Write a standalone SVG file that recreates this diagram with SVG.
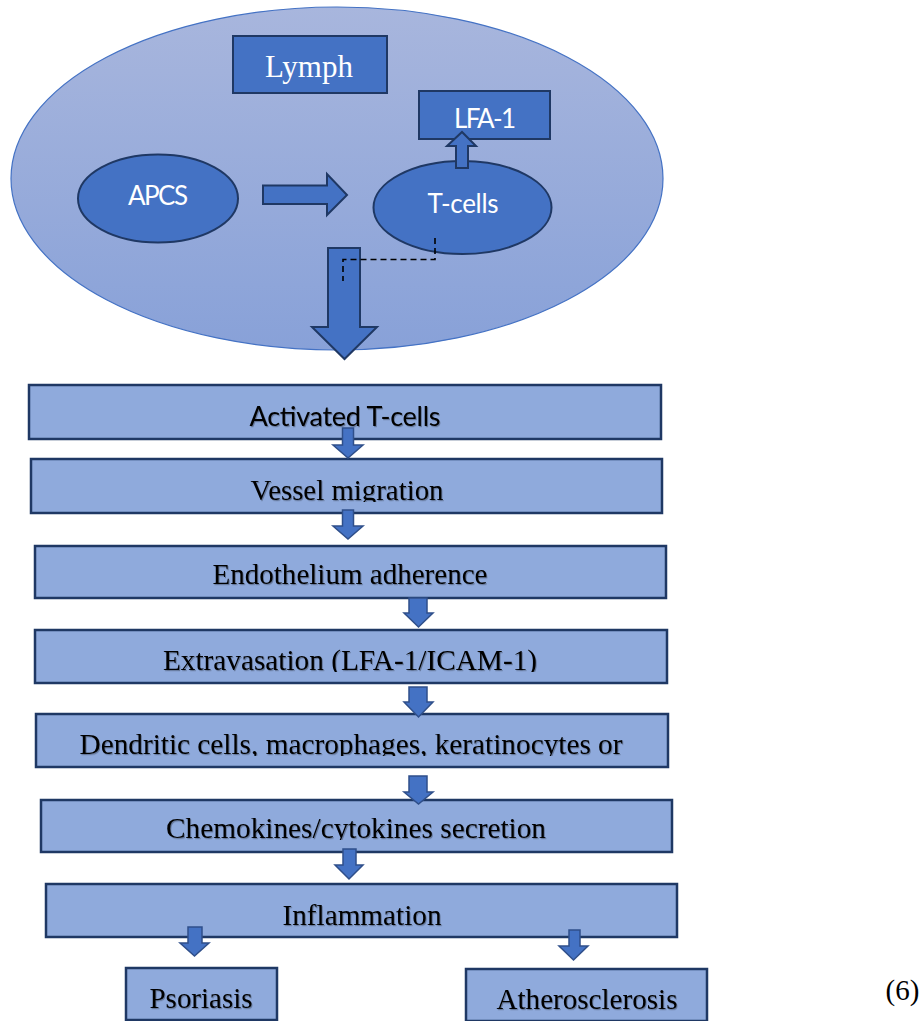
<svg xmlns="http://www.w3.org/2000/svg" width="924" height="1021" viewBox="0 0 924 1021">
  <defs>
    <linearGradient id="lymphGrad" x1="0" y1="0" x2="0" y2="1">
      <stop offset="0" stop-color="#a8b6dd"/>
      <stop offset="1" stop-color="#88a1d8"/>
    </linearGradient>
    <filter id="shadow" x="-5%" y="-20%" width="110%" height="150%">
      <feDropShadow dx="1" dy="1.2" stdDeviation="0.6" flood-color="#000" flood-opacity="0.3"/>
    </filter>
    <clipPath id="clip2"><rect x="31" y="459" width="631" height="43"/></clipPath>
    <clipPath id="clip4"><rect x="35" y="630" width="632" height="42"/></clipPath>
    <clipPath id="clip5"><rect x="36" y="714" width="632" height="42"/></clipPath>
    <clipPath id="clip6"><rect x="41" y="800" width="631" height="40"/></clipPath>
  </defs>
  <style>
    .dark { fill: #4472c4; stroke: #1f3864; stroke-width: 2; }
    .box { fill: #8faadc; stroke: #1f3864; stroke-width: 2.5; }
    .arrow { fill: #4472c4; stroke: #2f4f8a; stroke-width: 1.5; stroke-linejoin: miter; }
    .bigarrow { fill: #4472c4; stroke: #1f3864; stroke-width: 2; }
    .wsans { font-family: Lato, "Liberation Sans", sans-serif; fill: #ffffff; text-anchor: middle; }
    .wserif { font-family: "Liberation Serif", serif; fill: #ffffff; text-anchor: middle; }
    .bserif { font-family: "Liberation Serif", serif; fill: #000000; text-anchor: middle; font-size: 30px; }
    .bsans { font-family: Lato, "Liberation Sans", sans-serif; fill: #000000; text-anchor: middle; }
    .dash { fill: none; stroke: #000000; stroke-width: 1.6; stroke-dasharray: 6 4; }
  </style>

  <g id="lymph-region">
    <ellipse cx="337" cy="178.5" rx="326" ry="171.5" fill="url(#lymphGrad)" stroke="#4472c4" stroke-width="1.2"/>
  </g>

  <g id="lymph">
    <rect class="dark" x="233" y="36" width="154" height="57"/>
    <text class="wserif" x="309" y="77" font-size="31" textLength="88">Lymph</text>
  </g>

  <g id="lfa1">
    <rect class="dark" x="419" y="91" width="131" height="48"/>
    <text class="wsans" x="485" y="128" font-size="26" textLength="62">LFA-1</text>
  </g>

  <g id="apcs">
    <ellipse class="dark" cx="158" cy="198.5" rx="80" ry="44"/>
    <text class="wsans" x="158" y="205" font-size="26" textLength="60">APCS</text>
  </g>

  <g id="tcells">
    <ellipse class="dark" cx="462.5" cy="207.5" rx="89" ry="46.5"/>
    <text class="wsans" x="463" y="213" font-size="26" textLength="71">T-cells</text>
  </g>

  <g id="activated-tcells">
    <rect class="box" x="29" y="385" width="632" height="54"/>
    <text class="bsans" x="345" y="426" font-size="27" textLength="191" filter="url(#shadow)">Activated T-cells</text>
  </g>

  <g id="vessel-migration">
    <rect class="box" x="31" y="459" width="631" height="54"/>
    <g clip-path="url(#clip2)">
      <text class="bserif" x="347" y="500" textLength="193" lengthAdjust="spacingAndGlyphs" filter="url(#shadow)">Vessel migration</text>
    </g>
  </g>

  <g id="endothelium-adherence">
    <rect class="box" x="35" y="546" width="631" height="52"/>
    <text class="bserif" x="350" y="584" textLength="275" lengthAdjust="spacingAndGlyphs" filter="url(#shadow)">Endothelium adherence</text>
  </g>

  <g id="extravasation">
    <rect class="box" x="35" y="630" width="632" height="53"/>
    <g clip-path="url(#clip4)">
      <text class="bserif" x="350" y="670" textLength="374" lengthAdjust="spacingAndGlyphs" filter="url(#shadow)">Extravasation (LFA-1/ICAM-1)</text>
    </g>
  </g>

  <g id="dendritic-cells">
    <rect class="box" x="36" y="714" width="632" height="53"/>
    <g clip-path="url(#clip5)">
      <text class="bserif" x="351" y="754" textLength="543" lengthAdjust="spacingAndGlyphs" filter="url(#shadow)">Dendritic cells, macrophages, keratinocytes or</text>
    </g>
  </g>

  <g id="chemokines">
    <rect class="box" x="41" y="800" width="631" height="52"/>
    <g clip-path="url(#clip6)">
      <text class="bserif" x="356" y="838" textLength="380" lengthAdjust="spacingAndGlyphs" filter="url(#shadow)">Chemokines/cytokines secretion</text>
    </g>
  </g>

  <g id="inflammation">
    <rect class="box" x="46" y="884" width="631" height="53"/>
    <text class="bserif" x="362" y="925" textLength="159" lengthAdjust="spacingAndGlyphs" filter="url(#shadow)">Inflammation</text>
  </g>

  <g id="psoriasis">
    <rect class="box" x="126" y="968" width="151" height="52"/>
    <text class="bserif" x="201" y="1008" textLength="103" lengthAdjust="spacingAndGlyphs" filter="url(#shadow)">Psoriasis</text>
  </g>

  <g id="atherosclerosis">
    <rect class="box" x="466" y="969" width="241" height="52"/>
    <text class="bserif" x="587" y="1009" textLength="181" lengthAdjust="spacingAndGlyphs" filter="url(#shadow)">Atherosclerosis</text>
  </g>

  <g id="label-6">
    <text x="902.5" y="1000" font-family="Liberation Serif, serif" font-size="29" text-anchor="middle" fill="#000">(6)</text>
  </g>

  <g id="connectors">
    <path class="bigarrow" d="M263,185.5 H327 V174 L347,195 L327,215 V204 H263 Z"/>
    <path class="bigarrow" d="M456,168 V146 H447 L462,132 L476,146 H468 V168 Z"/>
    <path class="bigarrow" d="M328,248 H360 V327 H377 L344.5,359 L312,327 H328 Z"/>
    <path class="dash" d="M435,238 V259.5 H343 V281"/>
    <path class="arrow" d="M342.5,428 H353.5 V445 H363 L348,458 L333,445 H342.5 Z"/>
    <path class="arrow" d="M342.5,510 H353.5 V526 H363 L348,539 L333,526 H342.5 Z"/>
    <path class="arrow" d="M409,598 H427 V613 H433 L418.5,627 L404,613 H409 Z"/>
    <path class="arrow" d="M409,687 H427 V702 H433 L418.5,717 L404,702 H409 Z"/>
    <path class="arrow" d="M409,776 H427 V792 H433 L418.5,804 L404,792 H409 Z"/>
    <path class="arrow" d="M343,849 H356 V865 H363 L349,879 L335,865 H343 Z"/>
    <path class="arrow" d="M188,927 H202 V943 H209 L194.5,956 L180,943 H188 Z"/>
    <path class="arrow" d="M569,930 H580 V946 H588 L573.5,960 L559,946 H569 Z"/>
  </g>
</svg>
